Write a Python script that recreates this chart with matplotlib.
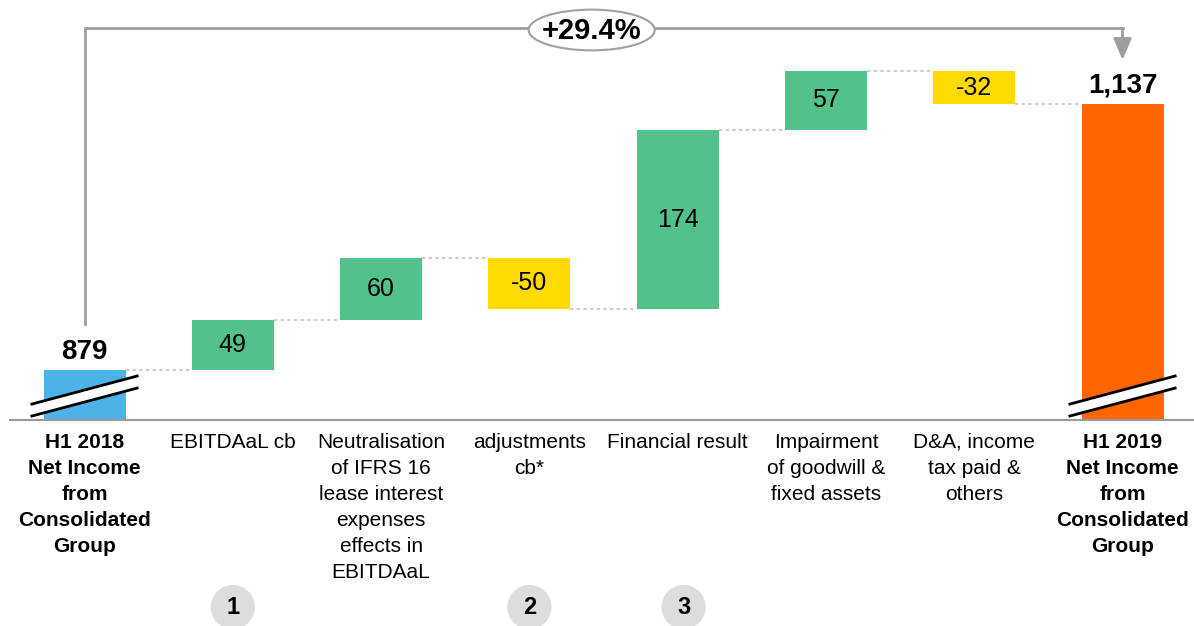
import numpy as np
import matplotlib
matplotlib.use("Agg")
import matplotlib.pyplot as plt
from matplotlib.patches import Ellipse, Polygon

plt.rcParams['font.family'] = ['Liberation Sans', 'DejaVu Sans']

# --- data ---
categories = ["H1 2018\nNet Income\nfrom\nConsolidated\nGroup",
              "EBITDAaL cb",
              "Neutralisation\nof IFRS 16\nlease interest\nexpenses\neffects in\nEBITDAaL",
              "adjustments\ncb*",
              "Financial result",
              "Impairment\nof goodwill &\nfixed assets",
              "D&A, income\ntax paid &\nothers",
              "H1 2019\nNet Income\nfrom\nConsolidated\nGroup"]
start_value = 879
end_value = 1137
steps = [49, 60, -50, 174, 57, -32]
growth_label = "+29.4%"
markers = ["1", "2", "3"]
marker_pos = [1, 3, 4.04]

blue = "#4DB3E6"
green = "#52C18A"
yellow = "#FFDA00"
orange = "#FF6600"
grey = "#9E9E9E"

base = 830.5
w = 0.553

fig = plt.figure(figsize=(11.94, 6.26), dpi=100)
ax = fig.add_axes([0, 0.329, 1, 0.671])
ax.set_xlim(-0.570, 7.482)
ax.set_ylim(base, 1237.9)

x = np.arange(len(categories))

# start & end bars
ax.bar(0, start_value - base, bottom=base, width=w, color=blue, zorder=2)
ax.bar(7, end_value - base, bottom=base, width=w, color=orange, zorder=2)

running = [start_value]
for s in steps:
    running.append(running[-1] + s)

for i, s in enumerate(steps):
    lo = min(running[i], running[i + 1])
    ax.bar(i + 1, abs(s), bottom=lo, width=w,
           color=green if s > 0 else yellow, zorder=2)
    ax.text(i + 1, lo + abs(s) / 2, f"{s}", ha='center', va='center',
            fontsize=18, zorder=3)

# connectors
for i in range(len(running)):
    ax.plot([i + w / 2, i + 1 - w / 2], [running[i], running[i]],
            color="#C4C4C4", lw=1.2, ls=(0, (2, 2)), zorder=1)

# totals
ax.text(0, start_value + 5, f"{start_value:,}", ha='center', va='bottom',
        fontsize=20, fontweight='bold')
ax.text(7, end_value + 5, f"{end_value:,}", ha='center', va='bottom',
        fontsize=20, fontweight='bold')

# axis breaks
for xc in (0, 7):
    x0, x1 = xc - 0.355, xc + 0.355
    band = Polygon([[x0, 834.4], [x1, 861.5], [x1, 873.2], [x0, 846.0]],
                   closed=True, facecolor='white', edgecolor='none', zorder=4,
                   clip_on=False)
    ax.add_patch(band)
    ax.plot([x0, x1], [846.0, 873.2], color='black', lw=2, zorder=5, clip_on=False)
    ax.plot([x0, x1], [834.4, 861.5], color='black', lw=2, zorder=5, clip_on=False)

# growth bracket
top_y = 1210.7
ax.plot([0, 0, 7], [923.6, top_y, top_y], color=grey, lw=2, zorder=1,
        solid_joinstyle='miter')
ax.annotate("", xy=(7, 1179.7), xytext=(7, top_y),
            arrowprops=dict(arrowstyle='-|>,head_width=0.55,head_length=1.3',
                            color=grey, lw=2, shrinkA=0, shrinkB=0))
ax.add_patch(Ellipse((3.42, 1208.8), 0.85, 39.5, facecolor='white',
                     edgecolor="#A0A0A0", lw=1.5, zorder=3))
ax.text(3.42, 1208.0, growth_label, ha='center', va='center',
        fontsize=21, fontweight='bold', zorder=4)

# axes styling
for sp in ['top', 'left', 'right']:
    ax.spines[sp].set_visible(False)
ax.spines['bottom'].set_color("#9A9A9A")
ax.spines['bottom'].set_linewidth(1.5)
ax.spines['bottom'].set_bounds(-0.502, 7.482)
ax.set_yticks([])
ax.set_xticks(x)
ax.set_xticklabels(categories, fontsize=15, linespacing=1.47, va='top')
ax.tick_params(axis='x', length=0, pad=9)
for k in (0, -1):
    ax.get_xticklabels()[k].set_fontweight('bold')

# numbered circles
for m, p in zip(markers, marker_pos):
    ax.text(p, 649.1, m, ha='center', va='center', fontsize=17,
            fontweight='bold', clip_on=False,
            bbox=dict(boxstyle='circle,pad=0.45', facecolor="#DDDDDD",
                      edgecolor='none'))

fig.savefig("out.png", dpi=100)
